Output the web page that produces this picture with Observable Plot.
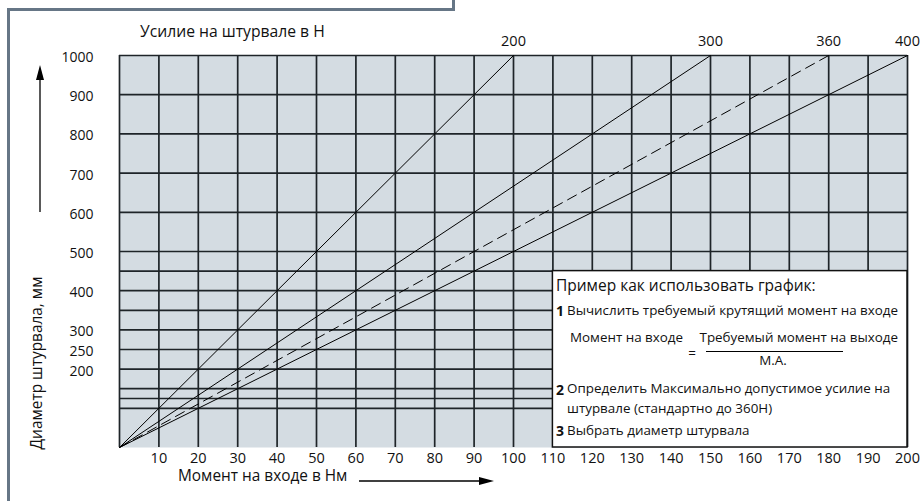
<!DOCTYPE html>
<html><head><meta charset="utf-8">
<script src="https://cdn.jsdelivr.net/npm/d3@7"></script>
<script src="https://cdn.jsdelivr.net/npm/@observablehq/plot@0.6"></script>
<style>
body{margin:0;background:#fff;}
#wrap{position:relative;width:920px;height:501px;overflow:hidden;background:#fff;}
</style></head><body><div id="wrap"></div>
<script>
// ---- data ----
const gridTorque = [0,10,20,30,40,50,60,70,80,90,100,110,120,130,140,150,160,170,180,190,200];
const tickTorque = [10,20,30,40,50,60,70,80,90,100,110,120,130,140,150,160,170,180,190,200];
const gridDiameter = [100,125,150,200,250,300,350,400,450,500,600,700,800,900,1000];
const tickDiameter = [200,250,300,400,500,600,700,800,900,1000];
const forceLabels = ["200","300","360","400"];
const forceValues = [200,300,360,400];
const forceTopTorque = [100,150,180,200];   // torque (Nm) where each force line reaches 1000 mm
const forceTopDiameter = [1000,1000,1000,1000];
const forceDashed = [false,false,true,false];
const legendTorque = [110,200];
const legendDiameter = [0,450];

const FONT = '"Open Sans", "Noto Sans", sans-serif';

const lineRows = forceValues.flatMap((f,i)=>[
  {force:f, torque:0, diameter:0, dashed:forceDashed[i]},
  {force:f, torque:forceTopTorque[i], diameter:forceTopDiameter[i], dashed:forceDashed[i]}
]);
const labelRows = forceValues.map((f,i)=>({label:forceLabels[i], torque:forceTopTorque[i], diameter:forceTopDiameter[i]}));
const legendRows = [{x1:legendTorque[0], x2:legendTorque[1], y1:legendDiameter[0], y2:legendDiameter[1]}];

const chart = Plot.plot({
  width:920, height:501,
  marginLeft:119, marginRight:13, marginTop:55, marginBottom:54,
  x:{domain:[0,200]},
  y:{domain:[0,1000]},
  style:{fontFamily:FONT, fontSize:"14px", color:"#111", background:"transparent", overflow:"visible"},
  marks:[
    Plot.frame({fill:"#d4dce2"}),
    Plot.ruleX(gridTorque,{stroke:"#1e2428", strokeWidth:1.7}),
    Plot.ruleY(gridDiameter,{stroke:"#1e2428", strokeWidth:1.7}),
    Plot.line(lineRows.filter(d=>!d.dashed),{x:"torque", y:"diameter", z:"force", stroke:"#000", strokeWidth:1}),
    Plot.line(lineRows.filter(d=>d.dashed),{x:"torque", y:"diameter", z:"force", stroke:"#000", strokeWidth:1, strokeDasharray:"10,6"}),
    Plot.rect(legendRows,{x1:"x1", x2:"x2", y1:"y1", y2:"y2", fill:"white", stroke:"#111", strokeWidth:1.5}),
    Plot.axisX(tickTorque,{tickSize:0, tickPadding:5, label:null, fontSize:14.5, tickFormat:d=>String(d)}),
    Plot.axisY(tickDiameter,{tickSize:0, tickPadding:26, label:null, fontSize:14, dy:2, tickFormat:d=>String(d)}),
    Plot.text(labelRows,{x:"torque", y:"diameter", text:"label", dy:-14, fontSize:14.5})
  ]
});
document.getElementById("wrap").appendChild(chart);

// ---- annotations ----
const svg = d3.select(chart);
const g = svg.append("g").attr("font-family", FONT).attr("fill", "#111").attr("text-anchor","start");
// page frame
g.append("path").attr("d","M8.5 501 V9.5 H453.5 V0").attr("fill","none").attr("stroke","#667686").attr("stroke-width",3);
// top title
g.append("text").attr("x",140).attr("y",33).attr("text-anchor","start").attr("dominant-baseline","middle").attr("font-size",15.7).text("Усилие на штурвале в Н");
// left axis label + arrow
g.append("text").attr("transform","translate(38,363) rotate(-90)").attr("text-anchor","middle").attr("dominant-baseline","middle").attr("font-size",15.4).text("Диаметр штурвала, мм");
g.append("line").attr("x1",40).attr("x2",40).attr("y1",212).attr("y2",76).attr("stroke","#000").attr("stroke-width",1.3);
g.append("path").attr("d","M40 65 L36 80 L44 80 Z").attr("fill","#000");
// bottom axis label + arrow
g.append("text").attr("x",178).attr("y",477).attr("text-anchor","start").attr("dominant-baseline","middle").attr("font-size",15.4).text("Момент на входе в Нм");
g.append("line").attr("x1",359).attr("x2",482).attr("y1",481).attr("y2",481).attr("stroke","#000").attr("stroke-width",1.3);
g.append("path").attr("d","M494 481 L479 477 L479 485 Z").attr("fill","#000");
// legend text
const L = g.append("g");
L.append("text").attr("x",556).attr("y",287).attr("text-anchor","start").attr("dominant-baseline","middle").attr("font-size",15.5).text("Пример как использовать график:");
const item = (num, y) => L.append("text").attr("x",556).attr("y",y).attr("text-anchor","start").attr("dominant-baseline","middle").attr("font-size",14).attr("font-weight","bold").text(num);
const line = (txt, x, y, anchor="start", fs=13.4) => L.append("text").attr("x",x).attr("y",y).attr("dominant-baseline","middle").attr("text-anchor",anchor).attr("font-size",fs).text(txt);
item("1",312); line("Вычислить требуемый крутящий момент на входе",567,311);
line("Момент на входе",570,338);
line("Требуемый момент на выходе",898,338,"end");
line("=",692,354,"middle");
L.append("line").attr("x1",706).attr("x2",843).attr("y1",351.5).attr("y2",351.5).attr("stroke","#000").attr("stroke-width",1);
line("М.А.",773,361,"middle");
item("2",391); line("Определить Максимально допустимое усилие на",567,389);
line("штурвале (стандартно до 360Н)",567,409);
item("3",432); line("Выбрать диаметр штурвала",567,431);
</script>
</body></html>
